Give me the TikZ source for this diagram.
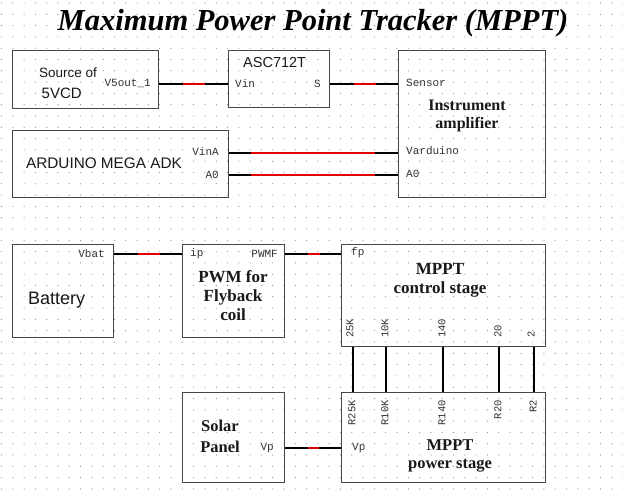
\documentclass[tikz,border=0pt]{standalone}
\usepackage{fontspec}
\setmainfont{Liberation Serif}
\newfontfamily\arialf{Liberation Sans}
\newfontfamily\courf{Liberation Mono}
\usetikzlibrary{calc}
\newcommand\wirepair[4]{%
  \draw[wire] (#1) -- (#2);
  \draw[redseg] ($(#1)!#3!(#2)$) -- ($(#1)!#4!(#2)$);}
\begin{document}
\begin{tikzpicture}[x=1pt,y=-1pt,
  box/.style={draw=black!72, line width=1.2pt, anchor=north west, inner sep=0pt},
  wire/.style={draw=black, line width=1.6pt},
  redseg/.style={draw=red!90!black, line width=1.6pt},
  port/.style={font=\courf\fontsize{11}{11}\selectfont, inner sep=0pt, text=black!80},
  rport/.style={font=\courf\fontsize{10.5}{10.5}\selectfont, inner sep=0pt, text=black!80, rotate=90},
  sanslab/.style={inner sep=0pt, text=black!90},
  serlab/.style={font=\bfseries\fontsize{16.5}{19}\selectfont, align=center, inner sep=0pt, text=black!90},
  dot/.style={fill=black!45}
]
\useasboundingbox (0,0) rectangle (623,492);
\fill[white] (0,0) rectangle (623,492);
% dotted grid
\foreach \i in {0,...,55} {
  \foreach \j in {0,...,43} {
    \fill[dot] (1.5+\i*11.3, 3+\j*11.3) circle (0.6pt);
  }
}
% title
\node[font=\fontsize{30.5}{32}\selectfont\bfseries\itshape, inner sep=0pt] (title) at (313,23) {Maximum Power Point Tracker (MPPT)};

% boxes
\node[box, minimum width=146pt, minimum height=58pt] (src) at (12,50) {};
\node[box, minimum width=101pt, minimum height=57pt] (asc) at (228,50) {};
\node[box, minimum width=147pt, minimum height=147pt] (amp) at (398,50) {};
\node[box, minimum width=216pt, minimum height=67pt] (ard) at (12,130) {};
\node[box, minimum width=101pt, minimum height=93pt] (bat) at (12,244) {};
\node[box, minimum width=102pt, minimum height=93pt] (pwm) at (182,244) {};
\node[box, minimum width=204pt, minimum height=102pt] (ctl) at (341,244) {};
\node[box, minimum width=102pt, minimum height=90pt] (sol) at (182,392) {};
\node[box, minimum width=204pt, minimum height=90pt] (pwr) at (341,392) {};

% texts
\node[sanslab, font=\arialf\fontsize{13.5}{13.5}\selectfont, anchor=west] (t1) at (39,73) {Source of};
\node[sanslab, font=\arialf\fontsize{15}{15}\selectfont, anchor=west] (t2) at (41.5,93) {5VCD};
\node[port, anchor=east] (l1) at (151,83) {V5out\_1};
\node[sanslab, font=\arialf\fontsize{14.5}{14.5}\selectfont, anchor=west] (t3) at (243,63) {ASC712T};
\node[port, anchor=west] (l2) at (235,84) {Vin};
\node[port, anchor=east] (l3) at (321,84) {S};
\node[port, anchor=west] (l4) at (406,83) {Sensor};
\node[port, anchor=west] (l5) at (406,151) {Varduino};
\node[port, anchor=west] (l6) at (406,174) {A0};
\node[serlab, font=\bfseries\fontsize{16}{18}\selectfont] (t4) at (467,116) {Instrument\\amplifier};
\node[port, anchor=east] (l7) at (219,152) {VinA};
\node[port, anchor=east] (l8) at (219,175) {A0};
\node[sanslab, font=\arialf\fontsize{15.3}{15.3}\selectfont, anchor=west] (t5) at (26,163) {ARDUINO MEGA ADK};
\node[port, anchor=east] (l9) at (105,254) {Vbat};
\node[sanslab, font=\arialf\fontsize{18}{18}\selectfont, anchor=west] (t6) at (28,300) {Battery};
\node[port, anchor=west] (l10) at (190,254) {ip};
\node[port, anchor=east] (l11) at (278,254) {PWMF};
\node[serlab, font=\bfseries\fontsize{17}{19}\selectfont] (t7) at (233,296) {PWM for\\Flyback\\coil};
\node[port, anchor=west] (l12) at (351,253) {fp};
\node[serlab, font=\bfseries\fontsize{17}{19}\selectfont] (t8) at (440,280.5) {MPPT\\control stage};
\node[rport, anchor=west] (c1) at (350,338) {25K};
\node[rport, anchor=west] (c2) at (385,338) {10K};
\node[rport, anchor=west] (c3) at (442,338) {140};
\node[rport, anchor=west] (c4) at (498,338) {20};
\node[rport, anchor=west] (c5) at (531,338) {2};
\node[rport, anchor=east] (p1) at (352,400) {R25K};
\node[rport, anchor=east] (p2) at (385,400) {R10K};
\node[rport, anchor=east] (p3) at (442,400) {R140};
\node[rport, anchor=east] (p4) at (498,400) {R20};
\node[rport, anchor=east] (p5) at (533,400) {R2};
\node[port, anchor=west] (l13) at (352,448) {Vp};
\node[serlab, font=\bfseries\fontsize{16.5}{18}\selectfont] (t9) at (450,456) {MPPT\\power stage};
\node[serlab, font=\bfseries\fontsize{16.5}{21}\selectfont] (t10) at (220,436.5) {Solar\\Panel};
\node[port, anchor=east] (l14) at (274,448) {Vp};

% connectors
\path (src.east |- 0,84) coordinate (a1) (asc.west |- 0,84) coordinate (b1);
\path (asc.east |- 0,84) coordinate (a2) (amp.west |- 0,84) coordinate (b2);
\path (ard.east |- 0,153) coordinate (a3) (amp.west |- 0,153) coordinate (b3);
\path (ard.east |- 0,175) coordinate (a4) (amp.west |- 0,175) coordinate (b4);
\path (bat.east |- 0,254) coordinate (a5) (pwm.west |- 0,254) coordinate (b5);
\path (pwm.east |- 0,254) coordinate (a6) (ctl.west |- 0,254) coordinate (b6);
\path (sol.east |- 0,448) coordinate (a7) (pwr.west |- 0,448) coordinate (b7);
\wirepair{a1}{b1}{0.34}{0.67}
\wirepair{a2}{b2}{0.35}{0.67}
\wirepair{a3}{b3}{0.13}{0.865}
\wirepair{a4}{b4}{0.13}{0.865}
\wirepair{a5}{b5}{0.35}{0.68}
\wirepair{a6}{b6}{0.40}{0.63}
\wirepair{a7}{b7}{0.40}{0.60}
\foreach \x in {353,386,443,499,534} {
  \draw[wire] (ctl.south -| \x,0) -- (pwr.north -| \x,0);
}
\end{tikzpicture}
\end{document}
